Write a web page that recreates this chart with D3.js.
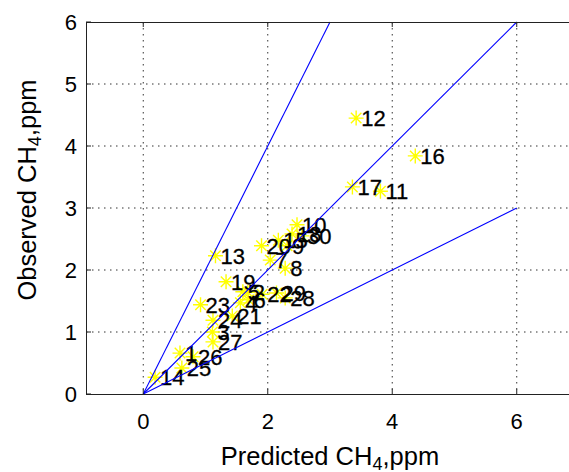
<!DOCTYPE html>
<html><head><meta charset="utf-8">
<script src="https://cdn.jsdelivr.net/npm/d3@7"></script>
<style>html,body{margin:0;padding:0;background:#fff;overflow:hidden}</style>
</head><body>
<svg id="c" width="569" height="472"></svg>
<script>
// data
const labels = ["12","16","17","11","13","20","15","9","18","30","10","7","8","19","5","2","22","29","28","6","4","1","21","23","24","3","27","26","25","14"];
const predicted = [3.42,4.37,3.36,3.81,1.16,1.90,2.17,2.31,2.39,2.55,2.47,2.04,2.28,1.33,1.60,1.68,1.91,2.14,2.28,1.69,1.56,0.59,1.43,0.92,1.12,1.11,1.12,0.80,0.62,0.19];
const observed  = [4.45,3.84,3.34,3.27,2.23,2.39,2.48,2.39,2.58,2.55,2.73,2.16,2.03,1.81,1.65,1.64,1.61,1.63,1.55,1.52,1.47,0.66,1.26,1.44,1.19,1.00,0.84,0.60,0.42,0.27];
const refSlopes = [2, 1, 0.5];
const xTicks = [0,2,4,6];
const yTicks = [0,1,2,3,4,5,6];
const xLabel = "Predicted CH";
const yLabel = "Observed CH";

const svg = d3.select("#c");
const L=86, T=22, B=394, R=574;
const x = d3.scaleLinear().domain([-0.92,6.92]).range([L,R]);
const y = d3.scaleLinear().domain([0,6]).range([B,T]);
const font = "Arial, 'Liberation Sans', sans-serif";

// grid
const g = svg.append("g");
g.selectAll(".gx").data(xTicks).enter().append("line")
  .attr("x1",d=>x(d)).attr("x2",d=>x(d)).attr("y1",T).attr("y2",B)
  .attr("stroke","#333").attr("stroke-width",1).attr("stroke-dasharray","1.5,4.5");
g.selectAll(".gy").data(yTicks.filter(d=>d>0&&d<6)).enter().append("line")
  .attr("y1",d=>y(d)).attr("y2",d=>y(d)).attr("x1",L).attr("x2",R)
  .attr("stroke","#333").attr("stroke-width",1).attr("stroke-dasharray","1.5,4.5");

// markers (asterisks)
const r = 7.5;
const pts = svg.append("g");
predicted.forEach((p,i)=>{
  const cx=x(p), cy=y(observed[i]);
  const d = `M${cx-r},${cy}L${cx+r},${cy}M${cx},${cy-r}L${cx},${cy+r}` +
    `M${cx-r*0.7},${cy-r*0.7}L${cx+r*0.7},${cy+r*0.7}M${cx-r*0.7},${cy+r*0.7}L${cx+r*0.7},${cy-r*0.7}`;
  pts.append("path").attr("d",d).attr("stroke","#ffff00").attr("stroke-width",1.4).attr("fill","none");
});
// labels
predicted.forEach((p,i)=>{
  svg.append("text").attr("x",x(p)+5).attr("y",y(observed[i])+8)
    .attr("font-family",font).attr("font-size",22).attr("fill","#000")
    .attr("stroke","#000").attr("stroke-width",0.3).text(labels[i]);
});

// reference lines
refSlopes.forEach(s=>{
  const xe = Math.min(6, 6/s);
  svg.append("line").attr("x1",x(0)).attr("y1",y(0)).attr("x2",x(xe)).attr("y2",y(xe*s))
    .attr("stroke","#0000ff").attr("stroke-width",1.1);
});

// axes box
const ax = svg.append("g").attr("stroke","#222").attr("stroke-width",1);
ax.append("line").attr("x1",L).attr("x2",R).attr("y1",B+0.5).attr("y2",B+0.5);
ax.append("line").attr("x1",L).attr("x2",R).attr("y1",T+0.5).attr("y2",T+0.5);
ax.append("line").attr("x1",L+0.5).attr("x2",L+0.5).attr("y1",T).attr("y2",B);
xTicks.forEach(t=>{
  ax.append("line").attr("x1",x(t)).attr("x2",x(t)).attr("y1",B).attr("y2",B-5);
  ax.append("line").attr("x1",x(t)).attr("x2",x(t)).attr("y1",T).attr("y2",T+5);
});
yTicks.forEach(t=>{
  ax.append("line").attr("x1",L).attr("x2",L+5).attr("y1",y(t)).attr("y2",y(t));
});

// tick labels
svg.selectAll(".xt").data(xTicks).enter().append("text")
  .attr("x",d=>x(d)).attr("y",B+35).attr("text-anchor","middle")
  .attr("font-family",font).attr("font-size",22).text(d=>d);
svg.selectAll(".yt").data(yTicks).enter().append("text")
  .attr("x",L-9).attr("y",d=>y(d)+8).attr("text-anchor","end")
  .attr("font-family",font).attr("font-size",22).text(d=>d);

// axis labels
const xl = svg.append("text").attr("x",x(3)).attr("y",465).attr("text-anchor","middle")
  .attr("font-family",font).attr("font-size",25.5);
xl.append("tspan").text(xLabel);
xl.append("tspan").attr("font-size",18).attr("dy",5).text("4");
xl.append("tspan").attr("dy",-5).text(",ppm");

const yl = svg.append("text").attr("transform",`translate(36,190) rotate(-90)`).attr("text-anchor","middle")
  .attr("font-family",font).attr("font-size",25.5);
yl.append("tspan").text(yLabel);
yl.append("tspan").attr("font-size",18).attr("dy",5).text("4");
yl.append("tspan").attr("dy",-5).text(",ppm");
</script>
</body></html>
